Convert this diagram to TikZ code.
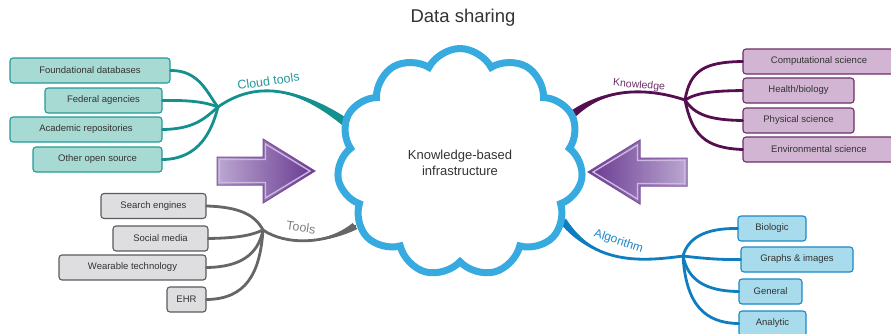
\documentclass[tikz,border=0pt]{standalone}
\usepackage{fontspec}
\setmainfont{Liberation Sans}
\usetikzlibrary{shapes.symbols,calc}

\definecolor{inkgrey}{HTML}{333333}
\definecolor{tealline}{HTML}{15918D}
\definecolor{tealfill}{HTML}{A7DAD3}
\definecolor{tealedge}{HTML}{23999A}
\definecolor{plumline}{HTML}{550F50}
\definecolor{plumfill}{HTML}{D1B5D2}
\definecolor{plumedge}{HTML}{6D2D6A}
\definecolor{toolline}{HTML}{666666}
\definecolor{toolfill}{HTML}{DEDEE0}
\definecolor{tooledge}{HTML}{5B5B5B}
\definecolor{tooltext}{HTML}{7F7F7F}
\definecolor{algoline}{HTML}{0F7EC1}
\definecolor{algofill}{HTML}{A8DCEC}
\definecolor{algoedge}{HTML}{1B88C7}
\definecolor{cloudblue}{HTML}{37ABE0}
\definecolor{arrowlight}{HTML}{BBA7D1}
\definecolor{arrowdark}{HTML}{683890}
\definecolor{arrowedge}{HTML}{7B4C9D}
\definecolor{arrowshine}{HTML}{CDB9DF}

\begin{document}
\begin{tikzpicture}[x=1pt, y=-1pt,
            leaf/.style={rectangle, rounded corners=3pt, line width=1.1pt, minimum height=25pt, inner sep=2pt, text=inkgrey, font=\fontsize{9.5}{11}\selectfont},
            sourceleaf/.style={leaf, draw=tealedge, fill=tealfill},
            fieldleaf/.style={leaf, draw=plumedge, fill=plumfill},
            toolleaf/.style={leaf, draw=tooledge, fill=toolfill},
            algoleaf/.style={leaf, draw=algoedge, fill=algofill},
            branch/.style={line width=2.8pt, line cap=round},
            twig/.style={font=\fontsize{12.5}{14}\selectfont},
            bigarrow/.style={draw=arrowedge, line width=1pt, line join=miter},
            shine/.style={draw=arrowshine, line width=1.4pt}
        ]
            \useasboundingbox (0,0) rectangle (891,333);

            % Title
            \node[text=inkgrey, font=\fontsize{18.5}{20}\selectfont] (title) at (463,18) {Data sharing};

            % Cloud tools
            \node[sourceleaf, minimum width=160pt] (fd) at (90,70.5) {Foundational databases};
            \node[sourceleaf, minimum width=117pt] (fa) at (103.5,100.5) {Federal agencies};
            \node[sourceleaf, minimum width=152pt] (ar) at (86,129.5) {Academic repositories};
            \node[sourceleaf, minimum width=129pt] (os) at (97.5,159.5) {Other open source};

            % Knowledge
            \node[fieldleaf, minimum width=152pt] (cs) at (819,61.5) {Computational science};
            \node[fieldleaf, minimum width=111pt] (hb) at (798.5,90.5) {Health/biology};
            \node[fieldleaf, minimum width=111pt] (ps) at (798.5,120.5) {Physical science};
            \node[fieldleaf, minimum width=152pt] (es) at (819,149.5) {Environmental science};

            % Tools
            \node[toolleaf, minimum width=105pt] (se) at (153.5,206) {Search engines};
            \node[toolleaf, minimum width=95pt] (sm) at (160.5,238.5) {Social media};
            \node[toolleaf, minimum width=147pt] (wt) at (132.5,267.5) {Wearable technology};
            \node[toolleaf, minimum width=39pt] (ehr) at (186.5,299.5) {EHR};

            % Algorithm
            \node[algoleaf, minimum width=68pt] (bio) at (772,228.5) {Biologic};
            \node[algoleaf, minimum width=112pt] (gi) at (797,259.5) {Graphs \& images};
            \node[algoleaf, minimum width=63pt] (gen) at (770.5,291.5) {General};
            \node[algoleaf, minimum width=67pt] (ana) at (772.5,323.5) {Analytic};

            % Junctions and trunk ends
            \coordinate (j1) at (218,107);
            \coordinate (t1) at (345,122);
            \coordinate (j2) at (685,100);
            \coordinate (t2) at (573,114);
            \coordinate (j3) at (263,230);
            \coordinate (t3) at (355,226);
            \coordinate (j4) at (683,256);
            \coordinate (t4) at (563,221);

            % Branches
            \draw[tealline, branch] (fd.east) .. controls (200,70) and (208,95) .. (j1);
            \draw[tealline, branch] (fa.east) .. controls (190,100) and (205,102) .. (j1);
            \draw[tealline, branch] (ar.east) .. controls (195,129) and (205,118) .. (j1);
            \draw[tealline, branch] (os.east) .. controls (200,159) and (212,130) .. (j1);

            \draw[plumline, branch] (j2) .. controls (690,70) and (705,62) .. (cs.west);
            \draw[plumline, branch] (j2) .. controls (698,92) and (715,91) .. (hb.west);
            \draw[plumline, branch] (j2) .. controls (695,115) and (710,120) .. (ps.west);
            \draw[plumline, branch] (j2) .. controls (692,135) and (705,148) .. (es.west);

            \draw[toolline, branch] (se.east) .. controls (240,207) and (255,215) .. (j3);
            \draw[toolline, branch] (sm.east) .. controls (235,238) and (250,236) .. (j3);
            \draw[toolline, branch] (wt.east) .. controls (240,267) and (258,255) .. (j3);
            \draw[toolline, branch] (ehr.east) .. controls (245,299) and (260,275) .. (j3);

            \draw[algoline, branch] (j4) .. controls (688,238) and (705,228) .. (bio.west);
            \draw[algoline, branch] (j4) .. controls (700,258) and (720,260) .. (gi.west);
            \draw[algoline, branch] (j4) .. controls (688,280) and (705,291) .. (gen.west);
            \draw[algoline, branch] (j4) .. controls (686,305) and (705,323) .. (ana.west);

            % Trunks, widening towards the cloud
            \draw[tealline, branch] (j1) .. controls (245,88) and (285,78) .. (t1);
            \fill[tealline] (j1) .. controls (245,88) and (285,78) .. ($(t1)+(2.6,-3.4)$) -- ($(t1)-(2.6,-3.4)$) .. controls (285,78) and (245,88) .. (j1) -- cycle;
            \draw[plumline, branch] (j2) .. controls (655,90) and (610,84) .. (t2);
            \fill[plumline] (j2) .. controls (655,90) and (610,84) .. ($(t2)+(2.4,2.9)$) -- ($(t2)-(2.4,2.9)$) .. controls (610,84) and (655,90) .. (j2) -- cycle;
            \draw[toolline, branch] (j3) .. controls (285,245) and (325,245) .. (t3);
            \fill[toolline] (j3) .. controls (285,245) and (325,245) .. ($(t3)+(2.3,3)$) -- ($(t3)-(2.3,3)$) .. controls (325,245) and (285,245) .. (j3) -- cycle;
            \draw[algoline, branch] (j4) .. controls (640,262) and (595,264) .. (t4);
            \fill[algoline] (j4) .. controls (640,262) and (595,264) .. ($(t4)+(3,-2.3)$) -- ($(t4)-(3,-2.3)$) .. controls (595,264) and (640,262) .. (j4) -- cycle;

            % Trunk labels
            \node[twig, text=tealedge, rotate=8] (lcloud) at (268.5,81) {Cloud tools};
            \node[twig, text=plumedge, rotate=-5, font=\fontsize{10.5}{12}\selectfont] (lknow) at (639,85.5) {Knowledge};
            \node[twig, text=tooltext, rotate=-8] (ltools) at (301,227.5) {Tools};
            \node[twig, text=algoedge, rotate=-18, font=\fontsize{12}{14}\selectfont] (lalgo) at (618.5,241.5) {Algorithm};

            % Cloud
            \node[cloud, draw=cloudblue, fill=white, line width=7pt, cloud puffs=11, cloud puff arc=125, aspect=1.1,
                  minimum width=246pt, minimum height=228pt, inner sep=0pt, align=center, text=inkgrey,
                  font=\fontsize{13}{16}\selectfont] (kb) at (460,162.5) {Knowledge-based\\infrastructure};

            % Arrows into the cloud
            \path[bigarrow, left color=arrowlight, right color=arrowdark]
                (217,157) -- (263,157) -- (263,139) -- (315,171) -- (263,203) -- (263,185) -- (217,185) -- cycle;
            \draw[shine] (219.5,159.5) -- (265.5,159.5) -- (265.5,144) -- (310,171) -- (265.5,198) -- (265.5,182.5) -- (219.5,182.5) -- cycle;
            \path[bigarrow, left color=arrowdark, right color=arrowlight]
                (687,158) -- (640,158) -- (640,140) -- (588,172) -- (640,204) -- (640,186) -- (687,186) -- cycle;
            \draw[shine] (684.5,160.5) -- (637.5,160.5) -- (637.5,145) -- (593,172) -- (637.5,199) -- (637.5,183.5) -- (684.5,183.5) -- cycle;
        \end{tikzpicture}
\end{document}
